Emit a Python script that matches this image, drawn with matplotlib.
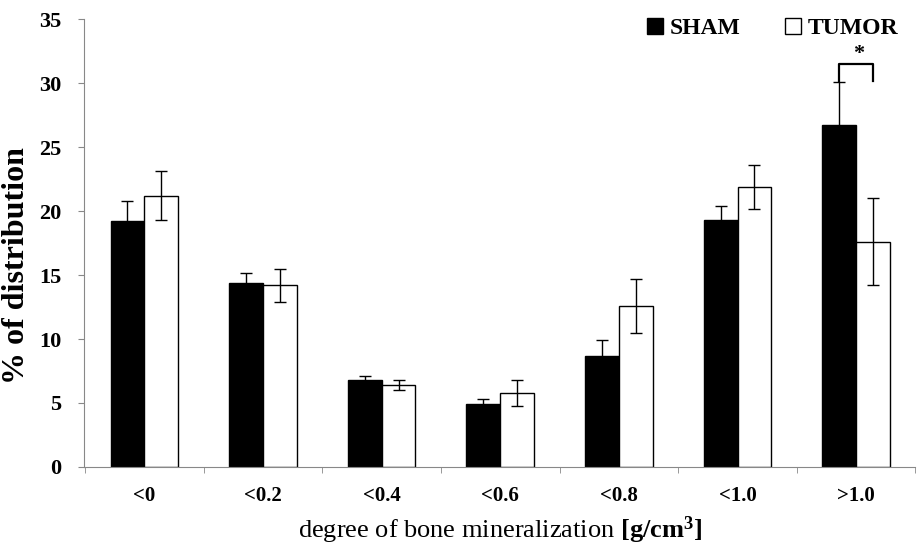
import matplotlib.pyplot as plt
import numpy as np

plt.rcParams['font.family'] = 'Liberation Serif'
plt.rcParams['mathtext.fontset'] = 'custom'
plt.rcParams['mathtext.rm'] = 'Liberation Serif'
plt.rcParams['mathtext.bf'] = 'Liberation Serif:bold'

categories = ['<0', '<0.2', '<0.4', '<0.6', '<0.8', '<1.0', '>1.0']
sham = [19.2, 14.4, 6.8, 4.9, 8.7, 19.3, 26.7]
sham_err = [1.6, 0.8, 0.3, 0.4, 1.2, 1.1, 3.4]
tumor = [21.2, 14.2, 6.4, 5.8, 12.6, 21.9, 17.6]
tumor_err = [1.9, 1.3, 0.4, 1.0, 2.1, 1.7, 3.4]

x = np.arange(len(categories))
w = 0.285

fig = plt.figure(figsize=(9.21, 5.5), dpi=100)
ax = fig.add_axes([0.091, 0.151, 0.903, 0.814])

ax.bar(x - w / 2, sham, w, color='black', edgecolor='black', linewidth=1, label='SHAM')
ax.bar(x + w / 2, tumor, w, color='white', edgecolor='black', linewidth=1, label='TUMOR')
ax.errorbar(x - w / 2, sham, yerr=sham_err, fmt='none', ecolor='black', elinewidth=1, capsize=4)
ax.errorbar(x + w / 2, tumor, yerr=tumor_err, fmt='none', ecolor='black', elinewidth=1, capsize=4)

# significance bracket on the last group
i = len(categories) - 1
ax.plot([i - w / 2, i - w / 2, i + w / 2, i + w / 2], [30.2, 31.5, 31.5, 30.2], color='black', lw=1.6)
ax.text(i + 0.02, 31.5, '*', ha='center', va='bottom', fontsize=16, fontweight='bold')

ax.set_xlim(-0.51, 6.43)
ax.set_ylim(0, 35)
ax.set_yticks(range(0, 36, 5))
ax.set_xticks(x)
ax.set_xticklabels(categories)
ax.set_xticks(np.arange(-0.5, 6.6, 1), minor=True)
ax.tick_params(axis='x', which='major', length=0, pad=14)
ax.tick_params(axis='x', which='minor', length=4, color='#888888')
ax.tick_params(axis='y', length=4, color='#888888', pad=12)
for lab in ax.get_xticklabels():
    lab.set_fontweight('bold')
    lab.set_fontsize(15)
for lab in ax.get_yticklabels():
    lab.set_fontweight('bold')
    lab.set_fontsize(16)

for s in ['top', 'right']:
    ax.spines[s].set_visible(False)
for s in ['left', 'bottom']:
    ax.spines[s].set_color('#888888')

ax.set_ylabel('% of distribution', fontsize=23, fontweight='bold')
ax.yaxis.set_label_coords(-0.063, 0.45)
ax.set_xlabel(r'degree of bone mineralization $\mathbf{[g/cm^3]}$', fontsize=19, labelpad=6)

ax.legend(loc='upper right', bbox_to_anchor=(1.005, 1.05), ncol=2, frameon=False,
          prop={'weight': 'bold', 'size': 17}, handlelength=0.65, handleheight=0.65,
          handletextpad=0.3, columnspacing=1.9)

fig.savefig('out.png')
